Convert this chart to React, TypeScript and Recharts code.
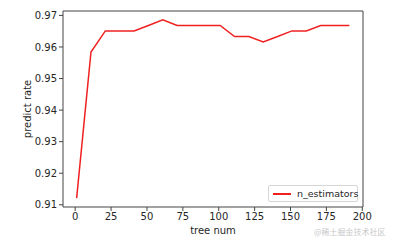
import { LineChart, Line, XAxis, YAxis, Label, ReferenceArea } from "recharts"

const treeNum = [1, 11, 21, 31, 41, 51, 61, 71, 81, 91, 101, 111, 121, 131, 141, 151, 161, 171, 181, 191]
const predictRate = [
  0.9121, 0.9584, 0.9651, 0.9651, 0.9651, 0.9668, 0.9686, 0.9668, 0.9668, 0.9668,
  0.9668, 0.9633, 0.9633, 0.9616, 0.9633, 0.9651, 0.9651, 0.9668, 0.9668, 0.9668,
]
const xTicks = [0, 25, 50, 75, 100, 125, 150, 175, 200]
const yTicks = [0.91, 0.92, 0.93, 0.94, 0.95, 0.96, 0.97]

const data = treeNum.map((t, i) => ({ tree: t, rate: predictRate[i] }))

const X_DOMAIN = [-8.5, 200.5]
const Y_DOMAIN = [0.9093, 0.9714]
const FONT = "DejaVu Sans, sans-serif"
const TEXT = "#262626"
const RED = "#f02020"

function LegendBox() {
  return (
    <div
      style={{
        position: "absolute",
        left: 268,
        top: 185,
        width: 90,
        height: 17,
        boxSizing: "border-box",
        border: "1px solid #d6d6d6",
        borderRadius: 2,
        background: "#fff",
        display: "flex",
        alignItems: "center",
        fontFamily: FONT,
        fontSize: 9.5,
        color: TEXT,
        whiteSpace: "nowrap",
      }}
    >
      <span style={{ display: "block", flexShrink: 0, width: 18, height: 2, background: RED, marginLeft: 4, marginRight: 6 }} />
      n_estimators
    </div>
  )
}

export default function App() {
  return (
    <div style={{ position: "absolute", left: 0, top: 0, width: 397, height: 245, background: "#fff" }}>
      <LineChart width={397} height={245} data={data} margin={{ top: 11, right: 34, left: 0, bottom: 0 }}>
        <ReferenceArea
          x1={X_DOMAIN[0]}
          x2={X_DOMAIN[1]}
          y1={Y_DOMAIN[0]}
          y2={Y_DOMAIN[1]}
          fill="none"
          stroke="#444"
          strokeWidth={1}
          ifOverflow="visible"
        />
        <XAxis
          dataKey="tree"
          type="number"
          domain={X_DOMAIN}
          ticks={xTicks}
          allowDataOverflow
          height={38}
          axisLine={false}
          tickSize={4}
          tickMargin={2}
          tickLine={{ stroke: "#444" }}
          tick={{ fill: TEXT, fontSize: 10, fontFamily: FONT }}
        >
          <Label
            content={({ viewBox }: any) => (
              <text
                x={viewBox.x + viewBox.width / 2}
                y={viewBox.y + 27}
                textAnchor="middle"
                fill={TEXT}
                fontSize={10}
                fontFamily={FONT}
              >
                tree num
              </text>
            )}
          />
        </XAxis>
        <YAxis
          type="number"
          domain={Y_DOMAIN}
          ticks={yTicks}
          allowDataOverflow
          width={63}
          axisLine={false}
          tickSize={4}
          tickMargin={2}
          tickLine={{ stroke: "#444" }}
          tickFormatter={(v: number) => v.toFixed(2)}
          tick={{ fill: TEXT, fontSize: 10, fontFamily: FONT }}
        >
          <Label
            content={({ viewBox }: any) => {
              const cx = 27
              const cy = viewBox.y + viewBox.height / 2
              return (
                <text
                  x={cx}
                  y={cy}
                  transform={`rotate(-90 ${cx} ${cy})`}
                  textAnchor="middle"
                  dominantBaseline="central"
                  fill={TEXT}
                  fontSize={10}
                  fontFamily={FONT}
                >
                  predict rate
                </text>
              )
            }}
          />
        </YAxis>
        <Line
          type="linear"
          dataKey="rate"
          name="n_estimators"
          stroke={RED}
          strokeWidth={1.5}
          dot={false}
          isAnimationActive={false}
        />
      </LineChart>
      <LegendBox />
      <div
        style={{
          position: "absolute",
          left: 314,
          top: 226,
          fontFamily: "Noto Sans CJK SC, sans-serif",
          fontSize: 8,
          color: "#c8c8c8",
          whiteSpace: "nowrap",
        }}
      >
        @稀土掘金技术社区
      </div>
    </div>
  )
}
